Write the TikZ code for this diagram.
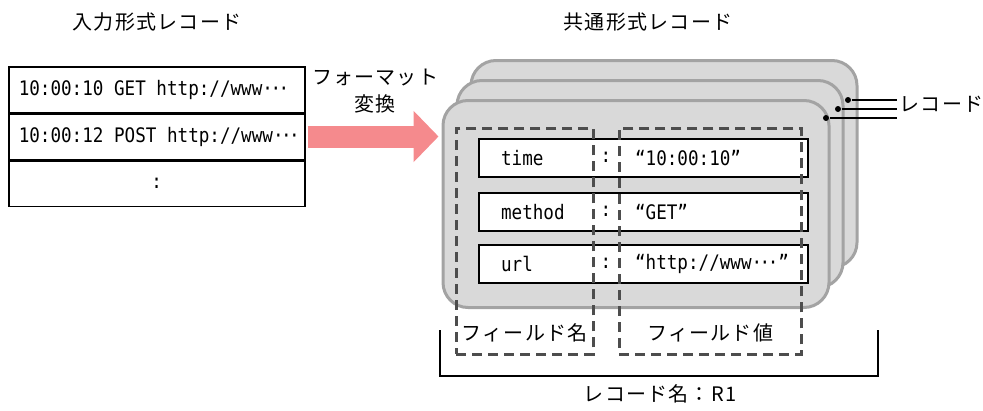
\documentclass[tikz,border=0pt]{standalone}
\usepackage{fontspec}
\setmainfont{Noto Sans CJK JP}[LetterSpace=6]
\newfontfamily\monofont[FakeStretch=0.88]{DejaVu Sans Mono}
\usetikzlibrary{arrows.meta, positioning}
\definecolor{cpink}{HTML}{F58A8D}
\definecolor{cfill}{HTML}{D9D9D9}
\definecolor{cedge}{HTML}{A3A3A3}
\definecolor{cdash}{HTML}{4D4D4D}
\newcommand\mdots{·\kern-2.5pt·\kern-2.5pt·}
\tikzset{
  every picture/.style={x=1pt, y=-1pt, line width=1.5pt},
  jp/.style={font=\fontsize{20}{27}\selectfont, align=center},
  code/.style={font=\monofont\fontsize{20}{22}\selectfont},
  inrow/.style={draw, code, minimum width=296pt, minimum height=45.5pt, inner sep=0pt},
  card/.style={draw=cedge, fill=cfill, line width=3pt, rounded corners=25pt, minimum width=386pt, minimum height=207pt},
  field/.style={draw, fill=white, minimum width=329pt, minimum height=38pt, anchor=north west, inner sep=0pt},
  group/.style={draw=cdash, dash pattern=on 10pt off 6pt, line width=2.5pt, anchor=north west, inner sep=0pt, minimum height=226pt},
  fat/.style={cpink, line width=22pt, -{Triangle[length=25pt, width=50pt]}},
  dot/.style={circle, fill, inner sep=0pt, minimum size=6pt},
}
\begin{document}
\begin{tikzpicture}
  \useasboundingbox (0,0) rectangle (983,410);
  \node[jp] (tin) at (157,22) {入力形式レコード};
  \node[jp] (tout) at (648,22) {共通形式レコード};

  \node[inrow, anchor=north west] (r1) at (8,66) {\makebox[276pt][l]{10:00:10 GET http://www\mdots}};
  \node[inrow, below=0pt of r1] (r2) {\makebox[276pt][l]{10:00:12 POST http://www\mdots}};
  \node[inrow, below=0pt of r2] (r3) {:};

  \node[card] (c3) at (664,164) {};
  \node[card] (c2) at (650,184) {};
  \node[card] (c1) at (636,204) {};

  \draw[fat] ([xshift=2pt]r2.east) -- ([xshift=-3pt]r2.east -| c1.west);
  \node[jp] (conv) at (375,91) {フォーマット\\変換};

  \node[field] (f1) at (478,138) {};
  \node[code, anchor=west] at ([xshift=19pt]f1.west) {time};
  \node[code] at ([xshift=128pt]f1.west) {:};
  \node[code, anchor=west] at ([xshift=153pt]f1.west) {“10:00:10”};
  \node[field] (f2) at (478,192) {};
  \node[code, anchor=west] at ([xshift=19pt]f2.west) {method};
  \node[code] at ([xshift=128pt]f2.west) {:};
  \node[code, anchor=west] at ([xshift=153pt]f2.west) {“GET”};
  \node[field] (f3) at (478,244) {};
  \node[code, anchor=west] at ([xshift=19pt]f3.west) {url};
  \node[code] at ([xshift=128pt]f3.west) {:};
  \node[code, anchor=west] at ([xshift=153pt]f3.west) {“http://www\mdots”};

  \node[group, minimum width=137pt] (gname) at (455,127) {};
  \node[group, minimum width=182pt] (gval) at (618,127) {};
  \node[jp] at ([yshift=23pt]gname.south) {フィールド名};
  \node[jp] at ([yshift=23pt]gval.south) {フィールド値};

  \coordinate (bl) at (440,330);
  \coordinate (br) at (878,330);
  \draw (bl) -- ++(0,46) -| (br);
  \node[jp] (rname) at (660,394) {レコード名：R1};

  \node[dot] (d1) at (848,100) {};
  \node[dot] (d2) at (838,109) {};
  \node[dot] (d3) at (826,118) {};
  \node[jp, anchor=west, inner xsep=2pt] (rec) at (897,104) {レコード};
  \draw (d1) -- (d1 -| rec.west);
  \draw (d2) -- (d2 -| rec.west);
  \draw (d3) -- (d3 -| rec.west);
\end{tikzpicture}
\end{document}
